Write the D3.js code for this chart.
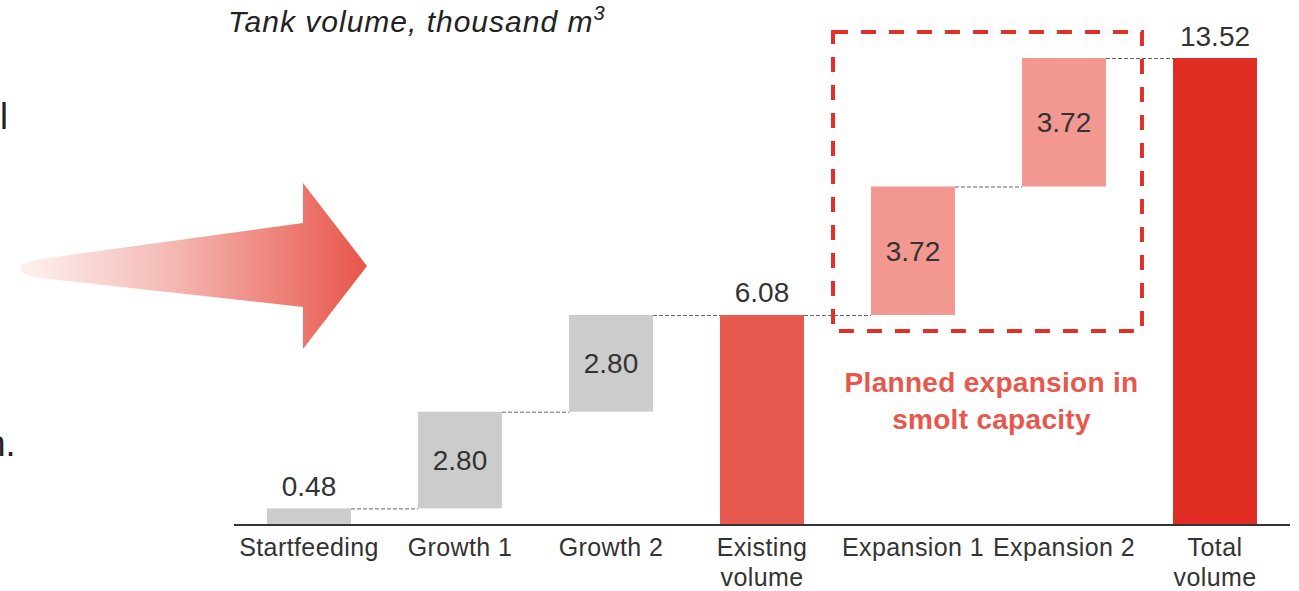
<!DOCTYPE html>
<html>
<head>
<meta charset="utf-8">
<script src="https://cdn.jsdelivr.net/npm/d3@7"></script>
<style>
  html, body { margin: 0; padding: 0; background: #ffffff; }
  svg { display: block; font-family: "Liberation Sans", Arial, Helvetica, sans-serif; }
</style>
</head>
<body>
<svg id="chart" width="1299" height="591"></svg>
<script>
// Waterfall of tank volume (thousand m3)
const categories = ["Startfeeding", "Growth 1", "Growth 2", "Existing\nvolume", "Expansion 1", "Expansion 2", "Total\nvolume"];
const values     = [0.48, 2.80, 2.80, 6.08, 3.72, 3.72, 13.52];
const barTypes   = ["step", "step", "step", "total", "step", "step", "total"];
const groups     = ["base", "base", "base", "existing", "planned", "planned", "sum"];
const plannedCategories = ["Expansion 1", "Expansion 2"];
const titleText  = "Tank volume, thousand m";
const noteLines  = ["Planned expansion in", "smolt capacity"];

const svg = d3.select("#chart");

const x = d3.scaleBand()
  .domain(categories)
  .range([233.5, 1290.5])
  .paddingInner(0.444)
  .paddingOuter(0.222);

const y = d3.scaleLinear().domain([0, 13.52]).range([525, 58]);

const color = d3.scaleOrdinal()
  .domain(["base", "existing", "planned", "sum"])
  .range(["#cccccc", "#e85a4f", "#f29891", "#e02d24"]);

// running totals for the floating bars
let run = 0;
const bars = categories.map((c, i) => {
  let start, end;
  if (barTypes[i] === "total") { start = 0; end = values[i]; run = values[i]; }
  else { start = run; end = run + values[i]; run = end; }
  return { cat: c, value: values[i], start, end, group: groups[i], type: barTypes[i] };
});

// --- decorative arrow on the left ---
const defs = svg.append("defs");
const grad = defs.append("linearGradient")
  .attr("id", "arrowGrad").attr("gradientUnits", "userSpaceOnUse")
  .attr("x1", 20).attr("y1", 0).attr("x2", 367).attr("y2", 0);
grad.append("stop").attr("offset", 0).attr("stop-color", "#fdf3f2");
grad.append("stop").attr("offset", 0.45).attr("stop-color", "#f4b6b1");
grad.append("stop").attr("offset", 1).attr("stop-color", "#e8554a");

svg.append("path")
  .attr("d", "M40,259 L303,223 L303,183 L367,266 L303,349 L303,307 L40,278 Q20,275 20,268.5 Q20,262 40,259 Z")
  .attr("fill", "url(#arrowGrad)");

// fragments of neighbouring text at the left edge
svg.append("text").attr("x", 0).attr("y", 129).attr("font-size", 36).attr("fill", "#222").text("l");
svg.append("text").attr("x", -14.6).attr("y", 456).attr("font-size", 36).attr("fill", "#222").text("n.");

// --- title ---
const title = svg.append("text")
  .attr("x", 228).attr("y", 32)
  .attr("font-size", 30).attr("font-style", "italic").attr("fill", "#222")
  .attr("letter-spacing", 1.0);
title.append("tspan").text(titleText);
title.append("tspan").attr("font-size", 20).attr("dy", -12).text("3");

// --- dashed frame around planned expansion ---
const pLeft = x(plannedCategories[0]) - 38;
const pRight = x(plannedCategories[1]) + x.bandwidth() + 36;
svg.append("rect")
  .attr("x", pLeft).attr("y", y(13.52) - 26)
  .attr("width", pRight - pLeft)
  .attr("height", (y(6.08) + 16) - (y(13.52) - 26))
  .attr("fill", "none")
  .attr("stroke", "#e03028").attr("stroke-width", 4)
  .attr("stroke-dasharray", "15,13");

// --- connectors ---
svg.append("g").selectAll("line")
  .data(bars.slice(0, -1))
  .join("line")
  .attr("x1", d => x(d.cat) + x.bandwidth())
  .attr("x2", (d, i) => x(bars[i + 1].cat))
  .attr("y1", d => y(d.end) + 0.5)
  .attr("y2", d => y(d.end) + 0.5)
  .attr("stroke", "#666").attr("stroke-width", 1)
  .attr("stroke-dasharray", "4,2");

// --- bars ---
svg.append("g").selectAll("rect")
  .data(bars)
  .join("rect")
  .attr("x", d => x(d.cat))
  .attr("width", x.bandwidth())
  .attr("y", d => y(d.end))
  .attr("height", d => y(d.start) - y(d.end))
  .attr("fill", d => color(d.group));

// --- value labels ---
svg.append("g").selectAll("text")
  .data(bars)
  .join("text")
  .attr("x", d => x(d.cat) + x.bandwidth() / 2)
  .attr("y", d => {
    const h = y(d.start) - y(d.end);
    if (d.type === "total" || h < 40) return y(d.end) - 12.5;
    return (y(d.start) + y(d.end)) / 2 + 10;
  })
  .attr("text-anchor", "middle")
  .attr("font-size", 28)
  .attr("fill", "#333")
  .text(d => d.value.toFixed(2));

// --- axis ---
const axis = d3.axisBottom(x).tickSize(0).tickPadding(0);
const gAxis = svg.append("g").attr("transform", "translate(0,525)").call(axis);
gAxis.select(".domain").attr("stroke", "#333").attr("stroke-width", 2.2)
  .attr("d", "M234,0H1290");
gAxis.selectAll(".tick text").each(function (d) {
  const t = d3.select(this);
  t.text(null).attr("y", 0).attr("dy", null)
    .attr("font-size", 25).attr("fill", "#333")
    .attr("font-family", "Liberation Sans, Arial, sans-serif")
    .attr("letter-spacing", 0.4);
  d.split("\n").forEach((line, k) => {
    t.append("tspan").attr("x", 0).attr("y", 31 + k * 29.5).text(line);
  });
});

// --- annotation ---
const midX = (x(plannedCategories[0]) + x(plannedCategories[1]) + x.bandwidth()) / 2 + 3;
svg.append("g").selectAll("text")
  .data(noteLines)
  .join("text")
  .attr("x", midX)
  .attr("y", (d, i) => 392 + i * 37)
  .attr("text-anchor", "middle")
  .attr("font-size", 28).attr("font-weight", "bold")
  .attr("letter-spacing", 0.3)
  .attr("fill", "#e8574b")
  .text(d => d);
</script>
</body>
</html>
